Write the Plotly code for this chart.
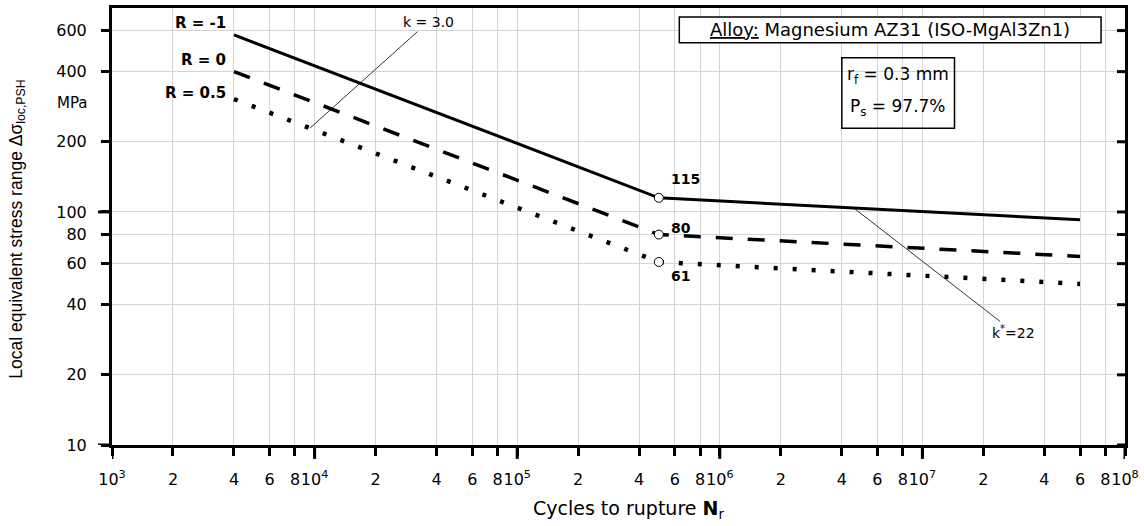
import numpy as np
import plotly.graph_objects as go

# ---------------- data ----------------
cycles = [4e3, 5e5, 6e7]
stress_Rm1 = [575, 115, 92.5]
stress_R0 = [400, 80, 64.4]
stress_R05 = [305, 61, 49.1]
series_names = ["R = -1", "R = 0", "R = 0.5"]

knee_cycles = 5e5
knee_stress = [115, 80, 61]
knee_labels = ["115", "80", "61"]

x_decade_exp = [3, 4, 5, 6, 7, 8]
x_minor_mult = [2, 4, 6, 8]
y_tickvals = [10, 20, 40, 60, 80, 100, 200, 400, 600]
y_major = [10, 100]

k1_anchor = (9.5e3, 229)     # start of "k = 3.0" leader
k2_anchor = (4.58e6, 104)    # start of "k*=22" leader

# ---------------- ticks ----------------
x_tickvals, x_ticktext = [], []
for e in x_decade_exp:
    x_tickvals.append(10.0 ** e)
    x_ticktext.append(f"10<sup>{e}</sup>")
    if e < x_decade_exp[-1]:
        for m in x_minor_mult:
            x_tickvals.append(m * 10.0 ** e)
            x_ticktext.append(str(m))
x_major = [10.0 ** e for e in x_decade_exp]

FONT = "DejaVu Sans"
FONT_R = "Liberation Sans, Arial"
GRID = "#d4d4d4"

L, R, T, B = 112, 16, 5, 81
PW, PH = 1144 - L - R, 526 - T - B


def px(xp):
    return (xp - L) / PW


def py(yp):
    return (T + PH - yp) / PH


fig = go.Figure()

styles = [dict(width=3, dash="solid"),
          dict(width=3.5, dash="17px,15px"),
          dict(width=4.5, dash="4px,15px")]
series = [stress_Rm1, stress_R0, stress_R05]
for name, vals, st in zip(series_names, series, styles):
    fig.add_trace(go.Scatter(x=cycles, y=vals, mode="lines", name=name,
                             line=dict(color="black", width=st["width"], dash=st["dash"]),
                             showlegend=False, hoverinfo="skip"))

fig.add_trace(go.Scatter(x=[knee_cycles] * len(knee_stress), y=knee_stress, mode="markers",
                         marker=dict(symbol="circle", size=9, color="white",
                                     line=dict(color="black", width=1)),
                         showlegend=False, hoverinfo="skip"))

xr = [3, 8]
yr = [1, np.log10(750)]

fig.update_layout(
    width=1144, height=526, autosize=False,
    margin=dict(l=L, r=R, t=T, b=B),
    paper_bgcolor="white", plot_bgcolor="white",
    font=dict(family=FONT, color="black", size=16),
    xaxis=dict(type="log", range=xr, tickmode="array", tickvals=x_tickvals, ticktext=x_ticktext,
               ticks="outside", ticklen=8, tickwidth=3, tickcolor="black", tickangle=0,
               ticklabelstandoff=10, tickfont=dict(size=16, family=FONT),
               showgrid=True, gridcolor=GRID, gridwidth=1, zeroline=False,
               minor=dict(showgrid=False, ticks=""),
               showline=True, linecolor="black", linewidth=3, mirror=True),
    yaxis=dict(type="log", range=yr, tickmode="array", tickvals=y_tickvals,
               ticktext=[str(v) for v in y_tickvals],
               ticks="outside", ticklen=8, tickwidth=3, tickcolor="black",
               ticklabelstandoff=11, tickfont=dict(size=16, family=FONT),
               showgrid=True, gridcolor=GRID, gridwidth=1, zeroline=False,
               minor=dict(showgrid=False, ticks=""),
               showline=True, linecolor="black", linewidth=3, mirror=True),
)

ann = []
# series labels at the start of each curve
yshifts = [12, 12, 6]
for name, vals, ys in zip(series_names, series, yshifts):
    ann.append(dict(x=np.log10(cycles[0]), y=np.log10(vals[0]), xref="x", yref="y",
                    text=f"<b>{name}</b>", showarrow=False, xanchor="right", yanchor="middle",
                    xshift=-6, yshift=ys, font=dict(size=15, family=FONT)))
# knee labels
kshifts = [19, 7, -14]
for lab, v, ys in zip(knee_labels, knee_stress, kshifts):
    ann.append(dict(x=np.log10(knee_cycles), y=np.log10(v), xref="x", yref="y",
                    text=f"<b>{lab}</b>", showarrow=False, xanchor="left", yanchor="middle",
                    xshift=10, yshift=ys, font=dict(size=14, family=FONT)))
# slope leaders
ann.append(dict(x=np.log10(k1_anchor[0]), y=np.log10(k1_anchor[1]), xref="x", yref="y",
                text="k = 3.0", showarrow=True, arrowhead=0, arrowwidth=0.8, arrowcolor="black",
                ax=118, ay=-106, font=dict(size=14, family=FONT)))
ann.append(dict(x=np.log10(k2_anchor[0]), y=np.log10(k2_anchor[1]), xref="x", yref="y",
                text="k<sup>*</sup>=22", showarrow=True, arrowhead=0, arrowwidth=0.8,
                arrowcolor="black", ax=160, ay=124, font=dict(size=14, family=FONT)))

# boxes
ann.append(dict(x=px(892.5), y=py(27), xref="paper", yref="paper",
                text="<u>Alloy:</u> Magnesium AZ31 (ISO-MgAl3Zn1)", showarrow=False,
                xanchor="center", yanchor="middle", font=dict(size=18, family=FONT)))
ann.append(dict(x=px(900.5), y=py(73), xref="paper", yref="paper",
                text="r<sub>f</sub> = 0.3 mm", showarrow=False,
                xanchor="center", yanchor="middle", font=dict(size=17, family=FONT)))
ann.append(dict(x=px(900.5), y=py(105), xref="paper", yref="paper",
                text="P<sub>s</sub> = 97.7%", showarrow=False,
                xanchor="center", yanchor="middle", font=dict(size=17, family=FONT)))
# unit
ann.append(dict(x=px(90), y=py(101), xref="paper", yref="paper", text="MPa", showarrow=False,
                xanchor="right", yanchor="middle", font=dict(size=15, family=FONT)))
# axis titles
ann.append(dict(x=px(17), y=py(228), xref="paper", yref="paper",
                text="Local equivalent stress range Δσ<sub>loc,PSH</sub>", showarrow=False,
                textangle=-90, xanchor="center", yanchor="middle",
                font=dict(size=17.5, family=FONT_R)))
ann.append(dict(x=px(630), y=py(510), xref="paper", yref="paper",
                text="Cycles to rupture <b>N</b><sub>r</sub>", showarrow=False,
                xanchor="center", yanchor="middle", font=dict(size=19, family=FONT)))
fig.update_layout(annotations=ann)

shapes = [
    dict(type="rect", xref="paper", yref="paper", x0=px(681), x1=px(1104), y0=py(40), y1=py(14),
         line=dict(color="black", width=1.5), fillcolor="white", layer="above"),
    dict(type="rect", xref="paper", yref="paper", x0=px(844), x1=px(957), y0=py(126), y1=py(55),
         line=dict(color="black", width=1.5), fillcolor="rgba(0,0,0,0)", layer="above"),
]
# long ticks at decades (x) and at 10, 100 (y)
for xv in x_major:
    shapes.append(dict(type="line", xref="x", yref="paper", x0=xv, x1=xv, y0=0, y1=-14 / PH,
                       line=dict(color="black", width=3), layer="above"))
for yv in y_major:
    shapes.append(dict(type="line", xref="paper", yref="y", x0=0, x1=-14 / PW, y0=yv, y1=yv,
                       line=dict(color="black", width=3), layer="above"))
# inward ticks on the right frame
for yv in y_tickvals:
    shapes.append(dict(type="line", xref="paper", yref="y", x0=1, x1=1 - 8 / PW, y0=yv, y1=yv,
                       line=dict(color="black", width=3), layer="above"))
fig.update_layout(shapes=shapes)

fig.write_html("out.html")
